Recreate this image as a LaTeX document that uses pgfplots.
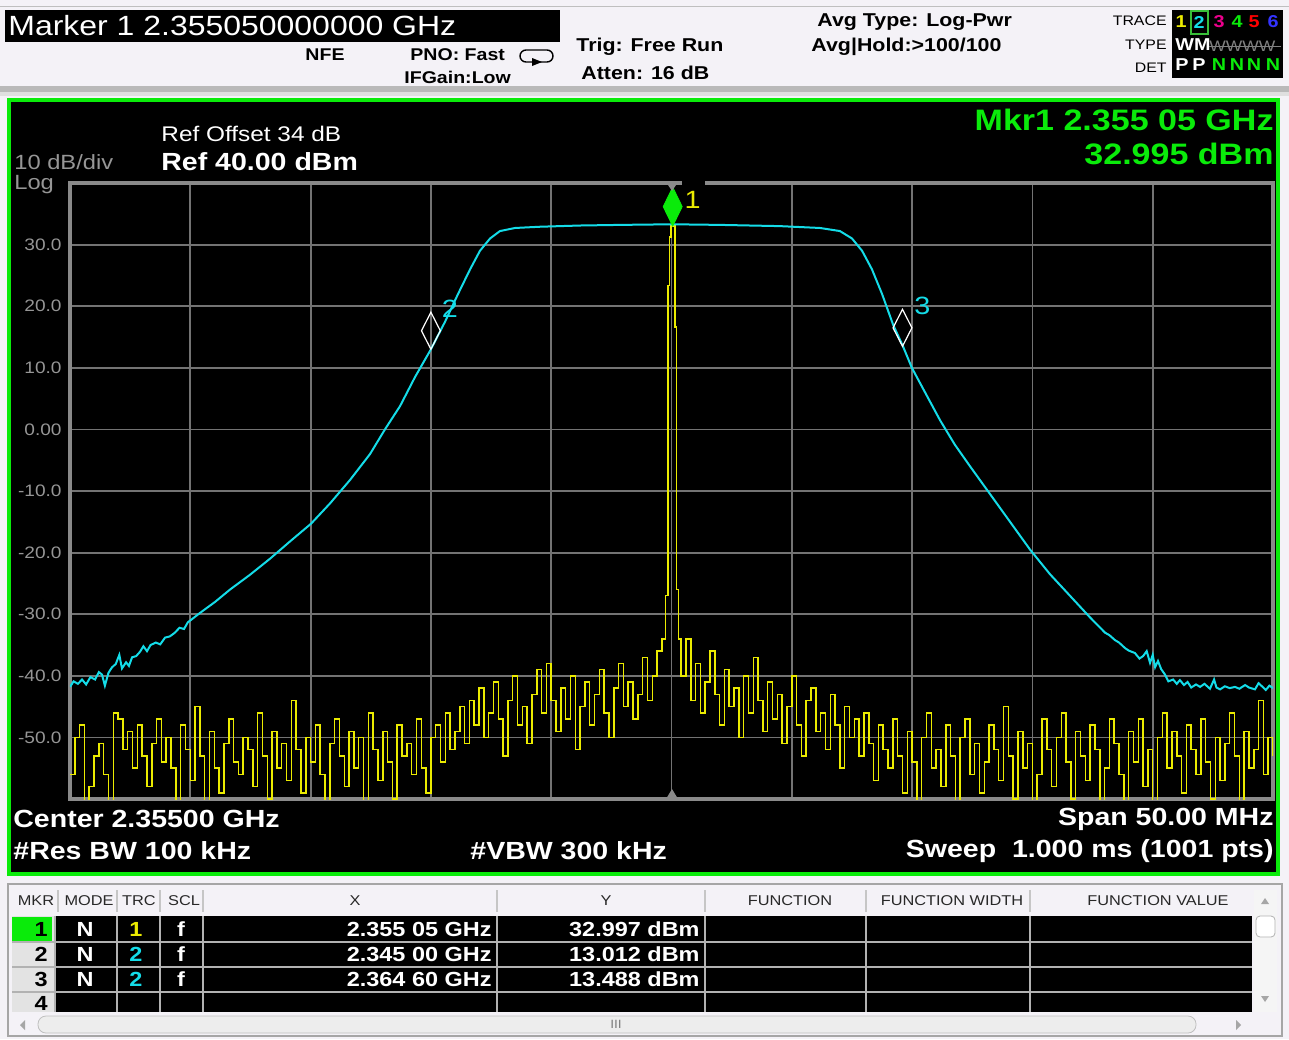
\documentclass[border=0pt]{standalone}
\usepackage{fontspec}
\setmainfont{Liberation Sans}[FakeStretch=1.15]
\usepackage{pgfplots}
\pgfplotsset{compat=1.18}
\newcommand\fs[1]{\fontsize{#1}{#1}\selectfont}
\definecolor{scrgreen}{RGB}{10,235,10}
\definecolor{trcyellow}{RGB}{235,235,0}
\definecolor{trccyan}{RGB}{20,220,232}
\definecolor{gridgray}{RGB}{115,115,115}
\definecolor{framegray}{RGB}{138,138,138}
\definecolor{labgray}{RGB}{150,150,150}
\definecolor{panelbg}{RGB}{244,242,247}
\definecolor{hdrtext}{RGB}{40,40,40}
\begin{document}
\begin{tikzpicture}
\useasboundingbox (0,0) rectangle (644.5pt,-519.5pt);
% ---------- screen furniture, in screenshot pixels ----------
\begin{scope}[x=0.5pt,y=-0.5pt,every node/.style={inner sep=0pt}]
\fill[panelbg] (0,0) rectangle (1289,1039);
\draw[gray!50,line width=0.5pt] (0,6) -- (1289,6);
\fill[black] (5,10) rectangle (560,42);
\node[anchor=west,text=white,font=\fs{13.9}] at (8,26) {Marker 1 2.355050000000 GHz};
\begin{scope}[every node/.append style={font=\bfseries\fs{9.3},text=black}]
\node[font=\bfseries\fs{8.5}] at (325,55) {NFE};
\node[anchor=west,font=\bfseries\fs{8.5}] at (410,55) {PNO: Fast};
\node[anchor=west,font=\bfseries\fs{8.5}] at (404,77) {IFGain:Low};
\node[anchor=west] at (576,47) {Trig: Free Run};
\node[anchor=west] at (581,73) {Atten: 16 dB};
\node[anchor=west] at (817,22) {Avg Type: Log-Pwr};
\node[anchor=west] at (811,47) {Avg|Hold:>100/100};
\end{scope}
\draw[line width=0.7pt,rounded corners=3] (520,50) rectangle (553,62);
\fill (532,58) -- (542,62) -- (532,66) -- cycle;
\node[anchor=east,font=\fs{6.9}] at (1167,21) {TRACE};
\node[anchor=east,font=\fs{6.9}] at (1167,45) {TYPE};
\node[anchor=east,font=\fs{6.9}] at (1167,68) {DET};
\fill[black] (1172,10) rectangle (1283,78);
\begin{scope}[every node/.append style={font=\bfseries\fs{8.6}}]
\node[text=trcyellow] at (1181,22) {1};
\node[text=trccyan] at (1199,22) {2};
\node[text=magenta] at (1219,22) {3};
\node[text=scrgreen] at (1237,22) {4};
\node[text=red] at (1254,22) {5};
\node[text=blue!80!white] at (1273,22) {6};
\node[text=white] at (1193,45) {WM};
\node[text=white] at (1182,65) {P};
\node[text=white] at (1199,65) {P};
\node[text=scrgreen] at (1219,65) {N};
\node[text=scrgreen] at (1237,65) {N};
\node[text=scrgreen] at (1254,65) {N};
\node[text=scrgreen] at (1273,65) {N};
\end{scope}
\draw[scrgreen!60!gray,line width=0.6pt] (1191,11) rectangle (1208,34);
\node[anchor=west,text=gray,font=\fs{7.6}] at (1209,46) {WWWW};
\draw[gray,line width=0.5pt] (1209,46) -- (1281,46);
\fill[gray!55] (0,86) rectangle (1289,92);
\fill[gray!25] (0,92) rectangle (1289,96);
\filldraw[fill=black,draw=scrgreen,line width=2pt] (8.5,99.5) rectangle (1278,874);
\node[anchor=west,text=white,font=\fs{10.6}] at (161,134) {Ref Offset 34 dB};
\node[anchor=west,text=white,font=\bfseries\fs{12.4}] at (161,162) {Ref 40.00 dBm};
\node[anchor=west,text=labgray,font=\fs{10.3}] at (14,162) {10 dB/div};
\node[anchor=west,text=labgray,font=\fs{10.3}] at (14,185) {Log};
\node[anchor=east,text=scrgreen,font=\bfseries\fs{14.8}] at (1274,120) {Mkr1 2.355 05 GHz};
\node[anchor=east,text=scrgreen,font=\bfseries\fs{14.8}] at (1274,154) {32.995 dBm};
\begin{scope}[every node/.append style={font=\bfseries\fs{12.4},text=white}]
\node[anchor=west] at (13,819) {Center 2.35500 GHz};
\node[anchor=west] at (13,851) {\#Res BW\ 100 kHz};
\node[anchor=west] at (470,851) {\#VBW 300 kHz};
\node[anchor=east] at (1274,819) {Span 50.00 MHz};
\node[anchor=east] at (1274,851) {Sweep\ \ 1.000 ms (1001 pts)};
\end{scope}
% marker table
\draw[gray!70,line width=1pt] (8,884) rectangle (1282,1036);
\begin{scope}[every node/.append style={font=\fs{7.1},text=hdrtext}]
\node at (36,901) {MKR};
\node at (89,901) {MODE};
\node at (139,901) {TRC};
\node at (184,901) {SCL};
\node at (355,901) {X};
\node at (606,901) {Y};
\node at (790,901) {FUNCTION};
\node at (952,901) {FUNCTION WIDTH};
\node at (1158,901) {FUNCTION VALUE};
\end{scope}
\foreach \c in {58,117,160,203,497,705,866,1030}
  \draw[gray!45,line width=0.6pt] (\c,890) -- (\c,912);
\fill[black] (55,916) rectangle (1252,1012);
\fill[gray!22] (12,916) rectangle (55,1012);
\fill[scrgreen] (12,917) rectangle (52,941);
\foreach \r in {942,967,992}
  \draw[gray!60,line width=1pt] (12,\r) -- (1252,\r);
\foreach \c in {55,117,160,203,497,705,866,1030}
  \draw[gray!60,line width=1pt] (\c,916) -- (\c,1012);
\begin{scope}[every node/.append style={font=\bfseries\fs{10.2},text=white}]
\node[anchor=east,text=black] at (48,929) {1};
\node[anchor=east,text=black] at (48,954) {2};
\node[anchor=east,text=black] at (48,979) {3};
\node[anchor=east,text=black] at (48,1003) {4};
\node at (85,929) {N};
\node at (85,954) {N};
\node at (85,979) {N};
\node[text=trcyellow] at (136,929) {1};
\node[text=trccyan] at (136,954) {2};
\node[text=trccyan] at (136,979) {2};
\node at (181,929) {f};
\node at (181,954) {f};
\node at (181,979) {f};
\node[anchor=east] at (492,929) {2.355 05 GHz};
\node[anchor=east] at (492,954) {2.345 00 GHz};
\node[anchor=east] at (492,979) {2.364 60 GHz};
\node[anchor=east] at (700,929) {32.997 dBm};
\node[anchor=east] at (700,954) {13.012 dBm};
\node[anchor=east] at (700,979) {13.488 dBm};
\end{scope}
\fill[gray!8] (1254,890) rectangle (1277,1012);
\fill[gray!70] (1261,904) -- (1269,904) -- (1265,898) -- cycle;
\fill[gray!70] (1261,996) -- (1269,996) -- (1265,1002) -- cycle;
\filldraw[fill=white,draw=gray!60,rounded corners=2] (1256,916) rectangle (1275,937);
\filldraw[fill=gray!14,draw=gray!50,rounded corners=4] (38,1016) rectangle (1196,1033);
\fill[gray!70] (25,1020) -- (25,1030) -- (20,1025) -- cycle;
\fill[gray!70] (1236,1020) -- (1236,1030) -- (1241,1025) -- cycle;
\node[text=gray,font=\fs{6}] at (616,1024) {III};
\end{scope}
% ---------- the trace display ----------
\begin{axis}[
  at={(35pt,-399.5pt)}, anchor=south west,
  scale only axis, width=601.5pt, height=308pt,
  xmin=2330, xmax=2380, ymin=-60, ymax=40,
  xtick={2335,2340,...,2375}, xticklabels={},
  ytick={-50,-40,...,30},
  yticklabels={-50.0,-40.0,-30.0,-20.0,-10.0,0.00,10.0,20.0,30.0},
  major tick length=0pt,
  grid=major,
  grid style={draw=gridgray,line width=0.9pt},
  axis line style={draw=framegray,line width=1.75pt},
  yticklabel style={font=\fs{8.3},text=labgray,inner sep=0pt,xshift=-4pt},
  /pgf/number format/assume math mode=true,
]
% trace 1: write, peak
\addplot[trcyellow,line width=0.75pt,const plot,mark=none] coordinates {
(2330.0,-56) (2330.2,-50) (2330.4,-48) (2330.6,-63) (2330.8,-58)
(2331.0,-53) (2331.2,-51) (2331.4,-56) (2331.6,-61) (2331.8,-46)
(2332.0,-47) (2332.2,-52) (2332.4,-49) (2332.6,-55) (2332.8,-48)
(2333.0,-53) (2333.2,-58) (2333.4,-51) (2333.6,-47) (2333.8,-54)
(2334.0,-50) (2334.2,-55) (2334.4,-62) (2334.6,-48) (2334.8,-52)
(2335.0,-57) (2335.2,-45) (2335.4,-53) (2335.6,-61) (2335.8,-49)
(2336.0,-55) (2336.2,-59) (2336.4,-51) (2336.6,-47) (2336.8,-54)
(2337.0,-56) (2337.2,-50) (2337.4,-52) (2337.6,-58) (2337.8,-46)
(2338.0,-53) (2338.2,-60) (2338.4,-49) (2338.6,-55) (2338.8,-51)
(2339.0,-57) (2339.2,-44) (2339.4,-52) (2339.6,-59) (2339.8,-50)
(2340.0,-54) (2340.2,-48) (2340.4,-56) (2340.6,-62) (2340.8,-51)
(2341.0,-47) (2341.2,-53) (2341.4,-58) (2341.6,-49) (2341.8,-55)
(2342.0,-50) (2342.2,-61) (2342.4,-46) (2342.6,-52) (2342.8,-57)
(2343.0,-49) (2343.2,-54) (2343.4,-60) (2343.6,-48) (2343.8,-53)
(2344.0,-51) (2344.2,-56) (2344.4,-47) (2344.6,-55) (2344.8,-59)
(2345.0,-50) (2345.2,-48) (2345.4,-54) (2345.6,-46) (2345.8,-52)
(2346.0,-49) (2346.2,-45) (2346.4,-51) (2346.6,-44) (2346.8,-48)
(2347.0,-42) (2347.2,-50) (2347.4,-46) (2347.6,-41) (2347.8,-47)
(2348.0,-53) (2348.2,-44) (2348.4,-40) (2348.6,-48) (2348.8,-45)
(2349.0,-51) (2349.2,-43) (2349.4,-39) (2349.6,-46) (2349.8,-38)
(2350.0,-44) (2350.2,-49) (2350.4,-42) (2350.6,-47) (2350.8,-40)
(2351.0,-52) (2351.2,-45) (2351.4,-41) (2351.6,-48) (2351.8,-43)
(2352.0,-39) (2352.2,-46) (2352.4,-50) (2352.6,-42) (2352.8,-38)
(2353.0,-45) (2353.2,-41) (2353.4,-47) (2353.6,-43) (2353.8,-37)
(2354.0,-44) (2354.2,-40) (2354.4,-36) (2354.6,-34) (2354.75,-27)
(2354.85,23.4) (2354.92,31.2) (2354.98,33.0) (2355.14,16.6) (2355.2,-26)
(2355.3,-34) (2355.4,-40) (2355.6,-34) (2355.8,-44)
(2356.0,-38) (2356.2,-46) (2356.4,-41) (2356.6,-36) (2356.8,-43)
(2357.0,-48) (2357.2,-39) (2357.4,-45) (2357.6,-42) (2357.8,-50)
(2358.0,-40) (2358.2,-46) (2358.4,-37) (2358.6,-44) (2358.8,-49)
(2359.0,-41) (2359.2,-47) (2359.4,-43) (2359.6,-51) (2359.8,-45)
(2360.0,-40) (2360.2,-48) (2360.4,-53) (2360.6,-44) (2360.8,-42)
(2361.0,-49) (2361.2,-46) (2361.4,-52) (2361.6,-43) (2361.8,-48)
(2362.0,-55) (2362.2,-45) (2362.4,-50) (2362.6,-47) (2362.8,-53)
(2363.0,-46) (2363.2,-51) (2363.4,-57) (2363.6,-48) (2363.8,-52)
(2364.0,-55) (2364.2,-47) (2364.4,-53) (2364.6,-59) (2364.8,-49)
(2365.0,-54) (2365.2,-61) (2365.4,-50) (2365.6,-46) (2365.8,-55)
(2366.0,-52) (2366.2,-58) (2366.4,-48) (2366.6,-53) (2366.8,-62)
(2367.0,-50) (2367.2,-47) (2367.4,-56) (2367.6,-51) (2367.8,-59)
(2368.0,-54) (2368.2,-48) (2368.4,-52) (2368.6,-57) (2368.8,-45)
(2369.0,-53) (2369.2,-60) (2369.4,-49) (2369.6,-55) (2369.8,-51)
(2370.0,-63) (2370.2,-56) (2370.4,-47) (2370.6,-52) (2370.8,-58)
(2371.0,-50) (2371.2,-46) (2371.4,-54) (2371.6,-60) (2371.8,-49)
(2372.0,-53) (2372.2,-57) (2372.4,-48) (2372.6,-52) (2372.8,-61)
(2373.0,-55) (2373.2,-47) (2373.4,-51) (2373.6,-56) (2373.8,-62)
(2374.0,-49) (2374.2,-54) (2374.4,-47) (2374.6,-58) (2374.8,-52)
(2375.0,-63) (2375.2,-50) (2375.4,-46) (2375.6,-55) (2375.8,-49)
(2376.0,-53) (2376.2,-59) (2376.4,-48) (2376.6,-52) (2376.8,-56)
(2377.0,-47) (2377.2,-54) (2377.4,-60) (2377.6,-50) (2377.8,-57)
(2378.0,-51) (2378.2,-46) (2378.4,-53) (2378.6,-61) (2378.8,-49)
(2379.0,-55) (2379.2,-52) (2379.4,-44) (2379.6,-56) (2379.8,-50)
(2380.0,-53)
};
% trace 2: max hold of the channel
\addplot[trccyan,line width=1pt,mark=none] coordinates {
(2330.00,-41.8) (2330.15,-40.9) (2330.33,-41.3) (2330.50,-40.6)
(2330.67,-41.4) (2330.85,-40.2) (2331.04,-40.6) (2331.20,-39.4)
(2331.33,-39.8) (2331.45,-41.6) (2331.60,-39.5) (2331.75,-38.6)
(2331.90,-38.1) (2332.05,-36.6) (2332.16,-38.8) (2332.33,-37.8)
(2332.45,-38.4) (2332.58,-37.0) (2332.75,-36.8) (2332.91,-36.1)
(2333.05,-35.2) (2333.20,-36.0) (2333.35,-35.0) (2333.57,-34.6)
(2333.75,-34.9) (2333.95,-33.8) (2334.15,-33.6) (2334.36,-33.0)
(2334.55,-32.2) (2334.74,-32.4) (2334.90,-31.3) (2335.07,-30.8)
(2335.40,-29.8) (2336.03,-28.0)
(2336.65,-26.0) (2337.48,-23.6) (2338.31,-21.0) (2339.14,-18.2)
(2340.02,-15.3) (2340.81,-12.0) (2341.64,-8.2) (2342.47,-4.0)
(2343.09,0.0) (2343.72,3.8) (2344.34,8.5) (2345.00,13.0)
(2345.59,17.5) (2346.13,22.0) (2346.63,26.0) (2347.04,29.0)
(2347.46,31.0) (2347.87,32.2) (2348.50,32.7) (2349.53,32.9)
(2351.20,33.1) (2352.86,33.2) (2355.02,33.3) (2357.02,33.2)
(2359.51,33.0) (2361.17,32.7) (2362.00,32.2) (2362.50,31.0)
(2362.92,29.0) (2363.33,26.0) (2363.75,22.0) (2364.21,17.0)
(2364.62,13.5) (2364.99,10.0) (2365.54,6.0) (2366.16,1.5)
(2366.78,-2.5) (2367.41,-6.0) (2368.24,-10.5) (2369.07,-15.0)
(2369.90,-19.5) (2370.73,-23.5) (2371.56,-27.0) (2372.39,-30.5)
(2373.02,-33.0) (2373.20,-33.4) (2373.43,-34.2) (2373.60,-34.6)
(2373.85,-35.5) (2374.00,-35.9) (2374.26,-36.3) (2374.45,-37.2)
(2374.60,-36.8) (2374.75,-36.0) (2374.89,-37.9) (2375.00,-36.6)
(2375.10,-38.6) (2375.22,-37.6) (2375.35,-38.9) (2375.51,-39.8)
(2375.65,-40.9) (2375.85,-40.6) (2376.00,-41.3) (2376.13,-40.7)
(2376.30,-41.5) (2376.45,-41.0) (2376.60,-41.9) (2376.80,-41.4)
(2376.97,-41.8) (2377.15,-41.3) (2377.38,-42.1) (2377.55,-40.6)
(2377.65,-41.9) (2377.80,-42.2) (2378.00,-41.7) (2378.20,-42.0)
(2378.42,-41.8) (2378.60,-42.1) (2378.84,-41.5) (2379.00,-41.9)
(2379.25,-42.2) (2379.40,-41.2) (2379.54,-41.7) (2379.70,-42.3)
(2379.85,-41.6) (2380.00,-42.0)
};
% markers
\addplot[only marks,mark=diamond*,mark size=9.75pt,
  mark options={xscale=0.65,yshift=9.75pt,draw=scrgreen,fill=scrgreen}]
  coordinates {(2355.05,32.997)};
\addplot[only marks,mark=diamond,mark size=9.25pt,
  mark options={xscale=0.68,yshift=9.25pt,draw=white,line width=0.6pt}]
  coordinates {(2345.00,13.012) (2364.60,13.488)};
\node[text=trcyellow,font=\fs{12.5},inner sep=0pt] at (axis cs:2355.05,32.997) [xshift=10pt,yshift=13pt] {1};
\node[text=trccyan,font=\fs{12.5},inner sep=0pt] at (axis cs:2345.00,13.012) [xshift=9.5pt,yshift=20pt] {2};
\node[text=trccyan,font=\fs{12.5},inner sep=0pt] at (axis cs:2364.60,13.488) [xshift=10pt,yshift=20pt] {3};
\end{axis}
% ---------- overlays on the frame ----------
\begin{scope}[x=0.5pt,y=-0.5pt]
\draw[black,line width=2pt] (682,183) -- (705,183);
\fill[framegray] (666,182) -- (678,182) -- (672,191) -- cycle;
\fill[framegray] (666,799) -- (678,799) -- (672,789) -- cycle;
\end{scope}
\end{tikzpicture}
\end{document}
